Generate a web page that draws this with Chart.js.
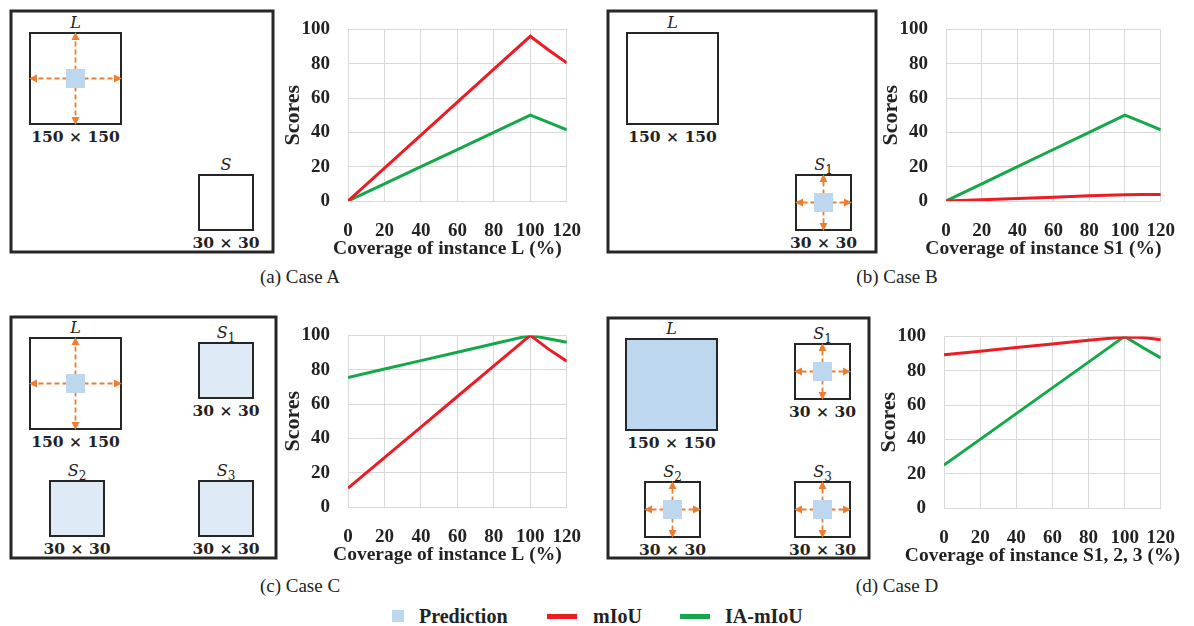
<!DOCTYPE html>
<html>
<head>
<meta charset="utf-8">
<script src="https://cdn.jsdelivr.net/npm/chart.js@4.4.1/dist/chart.umd.min.js"></script>
<style>
  body { margin: 0; background: #fff; width: 1194px; height: 626px; overflow: hidden; position: relative; font-family: "Liberation Serif", "Times New Roman", serif; color: #222; }
  .plot { position: absolute; height: 262px; }
  .cap { position: absolute; font-size: 19px; line-height: 22px; transform: translateX(-50%); white-space: nowrap; }
  .leg { position: absolute; font-size: 20px; line-height: 22px; font-weight: bold; white-space: nowrap; }
  #diagrams { position: absolute; left: 0; top: 0; }
</style>
</head>
<body>

<svg id="diagrams" width="1194" height="626"></svg>

<div class="plot" style="left:270px;top:0px;width:330px"><canvas id="chartA"></canvas></div>
<div class="plot" style="left:868px;top:0px;width:326px"><canvas id="chartB"></canvas></div>
<div class="plot" style="left:270px;top:306px;width:330px"><canvas id="chartC"></canvas></div>
<div class="plot" style="left:866px;top:307px;width:328px"><canvas id="chartD"></canvas></div>

<div class="cap" style="left:300px;top:266px">(a) Case A</div>
<div class="cap" style="left:897px;top:266px">(b) Case B</div>
<div class="cap" style="left:300px;top:575px">(c) Case C</div>
<div class="cap" style="left:897px;top:575px">(d) Case D</div>

<div style="position:absolute;left:392px;top:610px;width:12px;height:12px;background:#bdd7ee"></div>
<div class="leg" style="left:419px;top:605px">Prediction</div>
<div style="position:absolute;left:547px;top:614px;width:30px;height:5px;background:#ed1c24"></div>
<div class="leg" style="left:593px;top:605px">mIoU</div>
<div style="position:absolute;left:680px;top:614px;width:30px;height:5px;background:#14a84a"></div>
<div class="leg" style="left:725px;top:605px">IA-mIoU</div>

<script>
"use strict";

// coverage (%) along the x axis
const coverage = [0, 20, 40, 60, 80, 100, 110, 120];

// Case A
const caseA_mIoU   = [0, 19.2, 38.4, 57.6, 76.8, 96, 88, 80.5];
const caseA_iaMIoU = [0, 10, 20, 30, 40, 50, 45.8, 41.5];
// Case B
const caseB_mIoU   = [0, 0.7, 1.5, 2.2, 3.0, 3.7, 3.8, 3.8];
const caseB_iaMIoU = [0, 10, 20, 30, 40, 50, 45.8, 41.5];
// Case C
const caseC_mIoU   = [11, 28.8, 46.6, 64.4, 82.2, 100, 92, 85];
const caseC_iaMIoU = [75.5, 80.4, 85.3, 90.2, 95.1, 100, 98, 96];
// Case D
const caseD_mIoU   = [89.3, 91.4, 93.5, 95.6, 97.7, 99.7, 99.4, 98];
const caseD_iaMIoU = [25, 40, 55, 70, 85, 100, 93.5, 87.5];

const xTitles = ['Coverage of instance L (%)', 'Coverage of instance S1 (%)', 'Coverage of instance L (%)', 'Coverage of instance S1, 2, 3 (%)'];

const RED = '#ed1c24';
const GREEN = '#14a84a';
const GRID = '#d9d9d9';
const INK = '#222';

function toPoints(values) {
    return coverage.map((c, i) => ({ x: c, y: values[i] }));
}

// x title drawn by hand: the built-in one gets squeezed to the plot width
const xTitlePlugin = {
    id: 'xTitle',
    afterDraw(chart, args, opts) {
        const { ctx, chartArea } = chart;
        ctx.save();
        ctx.font = 'bold 19.5px "Liberation Serif"';
        ctx.fillStyle = INK;
        ctx.textAlign = 'center';
        ctx.textBaseline = 'middle';
        ctx.fillText(opts.text, (chartArea.left + chartArea.right) / 2 - 10, chartArea.bottom + 48);
        ctx.restore();
    }
};

function makeChart(id, xTitle, mIoU, iaMIoU, padRight) {
    new Chart(document.getElementById(id), {
        type: 'line',
        data: {
            datasets: [
                { label: 'mIoU', data: toPoints(mIoU), borderColor: RED, backgroundColor: RED, borderWidth: 3, pointRadius: 0, tension: 0 },
                { label: 'IA-mIoU', data: toPoints(iaMIoU), borderColor: GREEN, backgroundColor: GREEN, borderWidth: 3, pointRadius: 0, tension: 0 }
            ]
        },
        plugins: [xTitlePlugin],
        options: {
            animation: false,
            responsive: true,
            maintainAspectRatio: false,
            layout: { padding: { top: 21, right: padRight, left: 0, bottom: 0 } },
            plugins: { legend: { display: false }, tooltip: { enabled: false }, xTitle: { text: xTitle } },
            scales: {
                x: {
                    type: 'linear', min: 0, max: 120,
                    ticks: { stepSize: 20, padding: 19, color: INK, font: { family: 'Liberation Serif', size: 19, weight: 'bold' } },
                    grid: { color: GRID, drawTicks: false },
                    border: { color: GRID },
                    afterFit(s) { s.height = 61; }
                },
                y: {
                    min: 0, max: 100,
                    ticks: { stepSize: 20, padding: 18, color: INK, font: { family: 'Liberation Serif', size: 19, weight: 'bold' } },
                    grid: { color: GRID, drawTicks: false },
                    border: { color: GRID },
                    title: { display: true, text: 'Scores', color: INK, padding: { top: 10, bottom: 0 }, font: { family: 'Liberation Serif', size: 22, weight: 'bold' } },
                    afterFit(s) { s.width = 78; }
                }
            }
        }
    });
}

makeChart('chartA', xTitles[0], caseA_mIoU, caseA_iaMIoU, 21);
makeChart('chartB', xTitles[1], caseB_mIoU, caseB_iaMIoU, 17);
makeChart('chartC', xTitles[2], caseC_mIoU, caseC_iaMIoU, 21);
makeChart('chartD', xTitles[3], caseD_mIoU, caseD_iaMIoU, 18);

// ---- the scene sketches on the left of each chart ----
const svg = document.getElementById('diagrams');
const NS = 'http://www.w3.org/2000/svg';
const PRED = '#bdd7ee';
const PRED_LIGHT = '#deebf7';
const ORANGE = '#ed7d31';

function el(tag, attrs, parent) {
    const e = document.createElementNS(NS, tag);
    for (const k in attrs) e.setAttribute(k, attrs[k]);
    (parent || svg).appendChild(e);
    return e;
}

function label(x, y, name, sub) {
    const t = el('text', { x: x, y: y, 'text-anchor': 'middle', 'font-family': 'DejaVu Serif', 'font-style': 'italic', 'font-size': 16, fill: INK });
    t.textContent = name;
    if (sub) {
        const s = el('tspan', { 'font-size': 12, dy: 4, 'font-style': 'normal' }, t);
        s.textContent = sub;
    }
}

function dims(x, y, text) {
    const t = el('text', { x: x, y: y, 'text-anchor': 'middle', 'font-family': 'DejaVu Serif', 'font-weight': 'bold', 'font-size': 15.5, fill: INK });
    t.textContent = text;
}

function arrows(cx, cy, half) {
    const dirs = [[1, 0], [-1, 0], [0, 1], [0, -1]];
    dirs.forEach(([dx, dy]) => {
        el('line', { x1: cx, y1: cy, x2: cx + dx * (half - 5), y2: cy + dy * (half - 5), stroke: ORANGE, 'stroke-width': 1.8, 'stroke-dasharray': '5 3' });
        const tx = cx + dx * half, ty = cy + dy * half;
        const bx = cx + dx * (half - 8), by = cy + dy * (half - 8);
        const px = dy * 4, py = dx * 4;
        el('polygon', { points: `${tx},${ty} ${bx + px},${by + py} ${bx - px},${by - py}`, fill: ORANGE });
    });
    el('rect', { x: cx - 9.5, y: cy - 9.5, width: 19, height: 19, fill: PRED });
}

function box(b) {
    el('rect', { x: b.x, y: b.y, width: b.w, height: b.h, fill: b.fill || '#fff', stroke: '#262626', 'stroke-width': 2 });
    const cx = b.x + b.w / 2, cy = b.y + b.h / 2;
    label(cx, b.y - 5, b.name, b.sub);
    dims(cx, b.y + b.h + 18, b.dims);
    if (b.arrows) arrows(cx, cy, b.w / 2 + 1);
}

const frames = [
    { x: 11, y: 11, w: 262, h: 241 },
    { x: 608, y: 11, w: 268, h: 241 },
    { x: 11, y: 317, w: 265, h: 241 },
    { x: 608, y: 318, w: 261, h: 240 }
];
frames.forEach(f => el('rect', { x: f.x, y: f.y, width: f.w, height: f.h, fill: 'none', stroke: '#262626', 'stroke-width': 3 }));

const boxes = [
    // Case A
    { x: 30, y: 33, w: 91, h: 91, name: 'L', dims: '150 × 150', arrows: true },
    { x: 199, y: 175, w: 54, h: 55, name: 'S', dims: '30 × 30' },
    // Case B
    { x: 627, y: 33, w: 91, h: 91, name: 'L', dims: '150 × 150' },
    { x: 796, y: 175, w: 55, h: 55, name: 'S', sub: '1', dims: '30 × 30', arrows: true },
    // Case C
    { x: 30, y: 338, w: 91, h: 91, name: 'L', dims: '150 × 150', arrows: true },
    { x: 199, y: 343, w: 54, h: 55, name: 'S', sub: '1', dims: '30 × 30', fill: PRED_LIGHT },
    { x: 50, y: 481, w: 54, h: 55, name: 'S', sub: '2', dims: '30 × 30', fill: PRED_LIGHT },
    { x: 199, y: 481, w: 54, h: 55, name: 'S', sub: '3', dims: '30 × 30', fill: PRED_LIGHT },
    // Case D
    { x: 626, y: 339, w: 91, h: 91, name: 'L', dims: '150 × 150', fill: PRED },
    { x: 795, y: 344, w: 55, h: 55, name: 'S', sub: '1', dims: '30 × 30', arrows: true },
    { x: 645, y: 482, w: 55, h: 55, name: 'S', sub: '2', dims: '30 × 30', arrows: true },
    { x: 795, y: 482, w: 55, h: 55, name: 'S', sub: '3', dims: '30 × 30', arrows: true }
];
boxes.forEach(box);
</script>
</body>
</html>
